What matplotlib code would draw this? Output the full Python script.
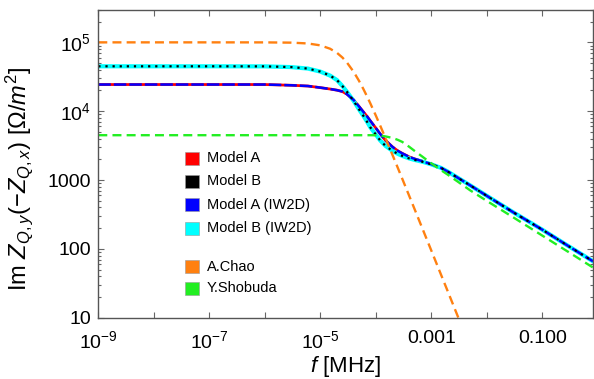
import matplotlib
matplotlib.use("Agg")
import matplotlib.pyplot as plt
from matplotlib.patches import Rectangle
from matplotlib.ticker import FixedLocator, LogLocator, NullFormatter

plt.rcParams['font.family'] = 'Liberation Sans'
plt.rcParams['mathtext.fontset'] = 'custom'
plt.rcParams['mathtext.rm'] = 'Liberation Sans'
plt.rcParams['mathtext.it'] = 'Liberation Sans:italic'

# frequency grid [MHz]
f_mhz = [1e-9, 1e-7, 1e-6, 3e-6, 6e-6, 1e-5, 1.5e-5, 2e-5, 2.5e-5, 3e-5,
         4e-5, 5e-5, 6e-5, 7e-5, 8e-5, 1e-4, 1.2e-4, 1.5e-4, 2e-4, 2.5e-4,
         3e-4, 4e-4, 5e-4, 7e-4, 1e-3, 1.5e-3, 2e-3, 3e-3, 5e-3, 1e-2,
         3e-2, 0.1, 0.3, 0.82]

# Im Z_Q [Ohm/m^2]
model_a = [24400, 24400, 24400, 23800, 23200, 22000, 21000, 20200, 19300, 17750,
           14520, 11700, 9730, 8370, 7210, 5710, 4680, 3760, 3030, 2650,
           2440, 2170, 2030, 1870, 1700, 1500, 1320, 1080, 838, 590,
           340, 190, 109, 66]
model_b = [44900, 44900, 44800, 43700, 41600, 37600, 32900, 28300, 23200, 19300,
           14070, 10590, 8510, 6970, 5800, 4590, 3760, 3130, 2650, 2400,
           2240, 2060, 1960, 1840, 1690, 1500, 1320, 1080, 838, 590,
           340, 190, 109, 66]
chao = [100000, 100000, 99900, 99060, 96340, 90460, 80830, 70340, 60280, 51320,
        37220, 27510, 20860, 16220, 12910, 8670, 6180, 4050, 2316, 1495,
        1043, 589, 378, 193, 94.8, 42.1, 23.7, 10.5, 3.8, 0.95,
        0.105, 0.0095, 0.00105, 0.00014]
shobuda = [4480, 4480, 4480, 4480, 4480, 4480, 4480, 4480, 4480, 4480,
           4480, 4480, 4480, 4480, 4480, 4470, 4430, 4300, 4090, 3830,
           3580, 3040, 2650, 2170, 1750, 1390, 1190, 948, 710, 498,
           287, 156, 89.5, 53.6]

labels = ['Model A', 'Model B', 'Model A (IW2D)', 'Model B (IW2D)', 'A.Chao', 'Y.Shobuda']
colors = ['#ff0000', '#000000', '#0000ff', '#00ffff', '#ff8010', '#22ee22']

fig = plt.figure(figsize=(5.94, 3.79), dpi=100)
ax = fig.add_axes([0.1655, 0.1617, 0.8328, 0.8132])

ax.plot(f_mhz, model_a, color=colors[0], lw=2.0, solid_capstyle='butt')
ax.plot(f_mhz, model_b, color=colors[3], lw=3.0)
ax.plot(f_mhz, model_a, color=colors[2], lw=1.8, dashes=(5, 1.2))
ax.plot(f_mhz, model_b, color=colors[1], lw=1.6, dashes=(1.0, 2.2))
ax.plot(f_mhz, chao, color=colors[4], lw=1.7, dashes=(3.8, 2.2))
ax.plot(f_mhz, shobuda, color=colors[5], lw=1.7, dashes=(3.8, 2.2))

ax.set_xscale('log')
ax.set_yscale('log')
ax.set_xlim(1e-9, 0.82)
ax.set_ylim(10, 3e5)

xt = [10.0 ** k for k in range(-9, 0)]
xl = [r'$10^{-9}$', '', r'$10^{-7}$', '', r'$10^{-5}$', '', '0.001', '', '0.100']
ax.xaxis.set_major_locator(FixedLocator(xt))
ax.set_xticklabels(xl)
ax.xaxis.set_minor_locator(FixedLocator([]))

yt = [10, 100, 1000, 1e4, 1e5]
ax.yaxis.set_major_locator(FixedLocator(yt))
ax.set_yticklabels(['10', '100', '1000', r'$10^4$', r'$10^5$'])
ax.yaxis.set_minor_locator(LogLocator(base=10, subs=range(2, 10)))
ax.yaxis.set_minor_formatter(NullFormatter())

ax.tick_params(which='both', direction='in', top=True, right=True,
               colors='#666666', labelcolor='black', labelsize=14, width=0.8)
ax.tick_params(which='major', length=4, pad=5)
ax.tick_params(axis='x', which='major', pad=9)
ax.tick_params(which='minor', length=2)
for s in ax.spines.values():
    s.set_color('#555555')
    s.set_linewidth(1.0)

ax.set_xlabel(r'$f$ [MHz]', fontsize=16, labelpad=1)
ax.set_ylabel(r'Im $Z_{Q,y}(-Z_{Q,x})$ [$\Omega/m^2$]', fontsize=17, labelpad=4)
ax.yaxis.set_label_coords(-0.128, 0.45)

# legend as colored squares
rows = [0.518, 0.442, 0.366, 0.291, 0.165, 0.0954]
for lab, col, yc in zip(labels, colors, rows):
    ax.add_patch(Rectangle((0.1753, yc - 0.021), 0.0283, 0.042, transform=ax.transAxes,
                           facecolor=col, edgecolor='#999999', lw=0.4, zorder=5))
    ax.text(0.2197, yc, lab, transform=ax.transAxes, fontsize=10.5, va='center', ha='left')

fig.savefig('out.png', dpi=100)
